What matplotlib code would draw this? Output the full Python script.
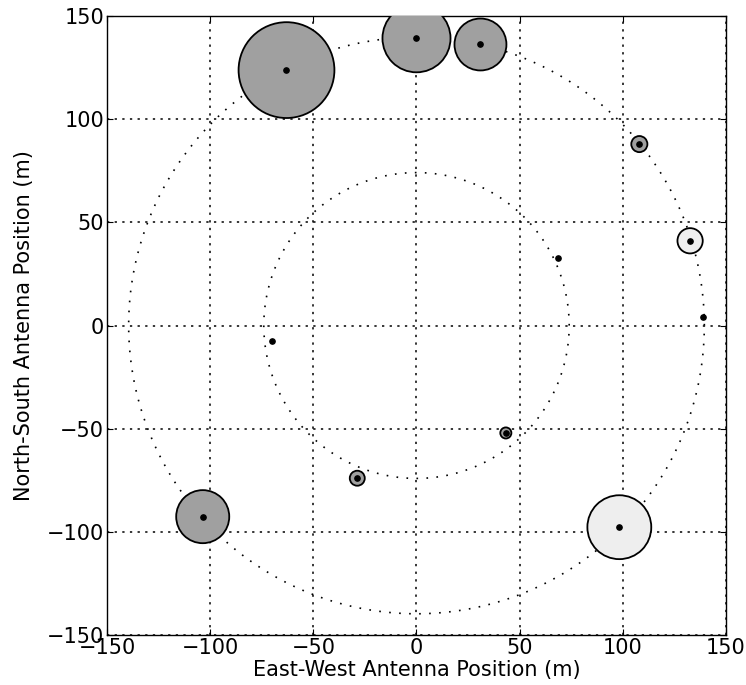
import matplotlib
matplotlib.use("Agg")
import matplotlib.pyplot as plt
import numpy as np


# antenna positions (m)
east = [-63, 0, 31, 108, 132.6, 138.8, 68.6, -70, 43.3, -28.7, -103.6, 98.3]
north = [123.6, 139, 136, 87.8, 41, 4, 32.5, -7.3, -52, -73.9, -92.5, -97.6]
# bubble radius (points) and fill shade per antenna
radius = [34.5, 24.5, 18.7, 5.8, 9.1, 0, 0, 0, 4.0, 5.4, 19.1, 23.0]
shade = ["#a0a0a0", "#a0a0a0", "#a0a0a0", "#a0a0a0", "#eeeeee", "#a0a0a0",
         "#a0a0a0", "#a0a0a0", "#a0a0a0", "#a0a0a0", "#a0a0a0", "#eeeeee"]
ring_radii = [139.5, 74]

plt.rcParams["font.family"] = "DejaVu Sans"
plt.rcParams["font.size"] = 15

fig = plt.figure(figsize=(7.46, 6.85), dpi=100)
ax = fig.add_axes([0.1434, 0.0723, 0.8298, 0.905])

theta = np.linspace(0, 2 * np.pi, 400)
for r in ring_radii:
    ax.plot(r * np.cos(theta), r * np.sin(theta), color="black",
            linestyle=(0, (1, 5)), linewidth=1.2, zorder=2)

sizes = [(2 * r) ** 2 for r in radius]
ax.scatter(east, north, s=sizes, c=shade, edgecolors="black",
           linewidths=1.3, zorder=3)
ax.plot(east, north, "o", color="black", markersize=3.8, linestyle="none",
        zorder=4)

ax.set_xlim(-150, 150)
ax.set_ylim(-150, 150)
ax.set_xticks([-150, -100, -50, 0, 50, 100, 150])
ax.set_yticks([-150, -100, -50, 0, 50, 100, 150])
ax.grid(True, color="black", linestyle=(0, (1.5, 3.5)), linewidth=1.1)
ax.set_axisbelow(True)
ax.tick_params(direction="in", top=True, right=True, length=4, pad=2)
for s in ax.spines.values():
    s.set_linewidth(1.0)

ax.set_xlabel("East-West Antenna Position (m)", labelpad=1)
ax.set_ylabel("North-South Antenna Position (m)", labelpad=9)

fig.savefig("out.png", dpi=100, facecolor="white")
